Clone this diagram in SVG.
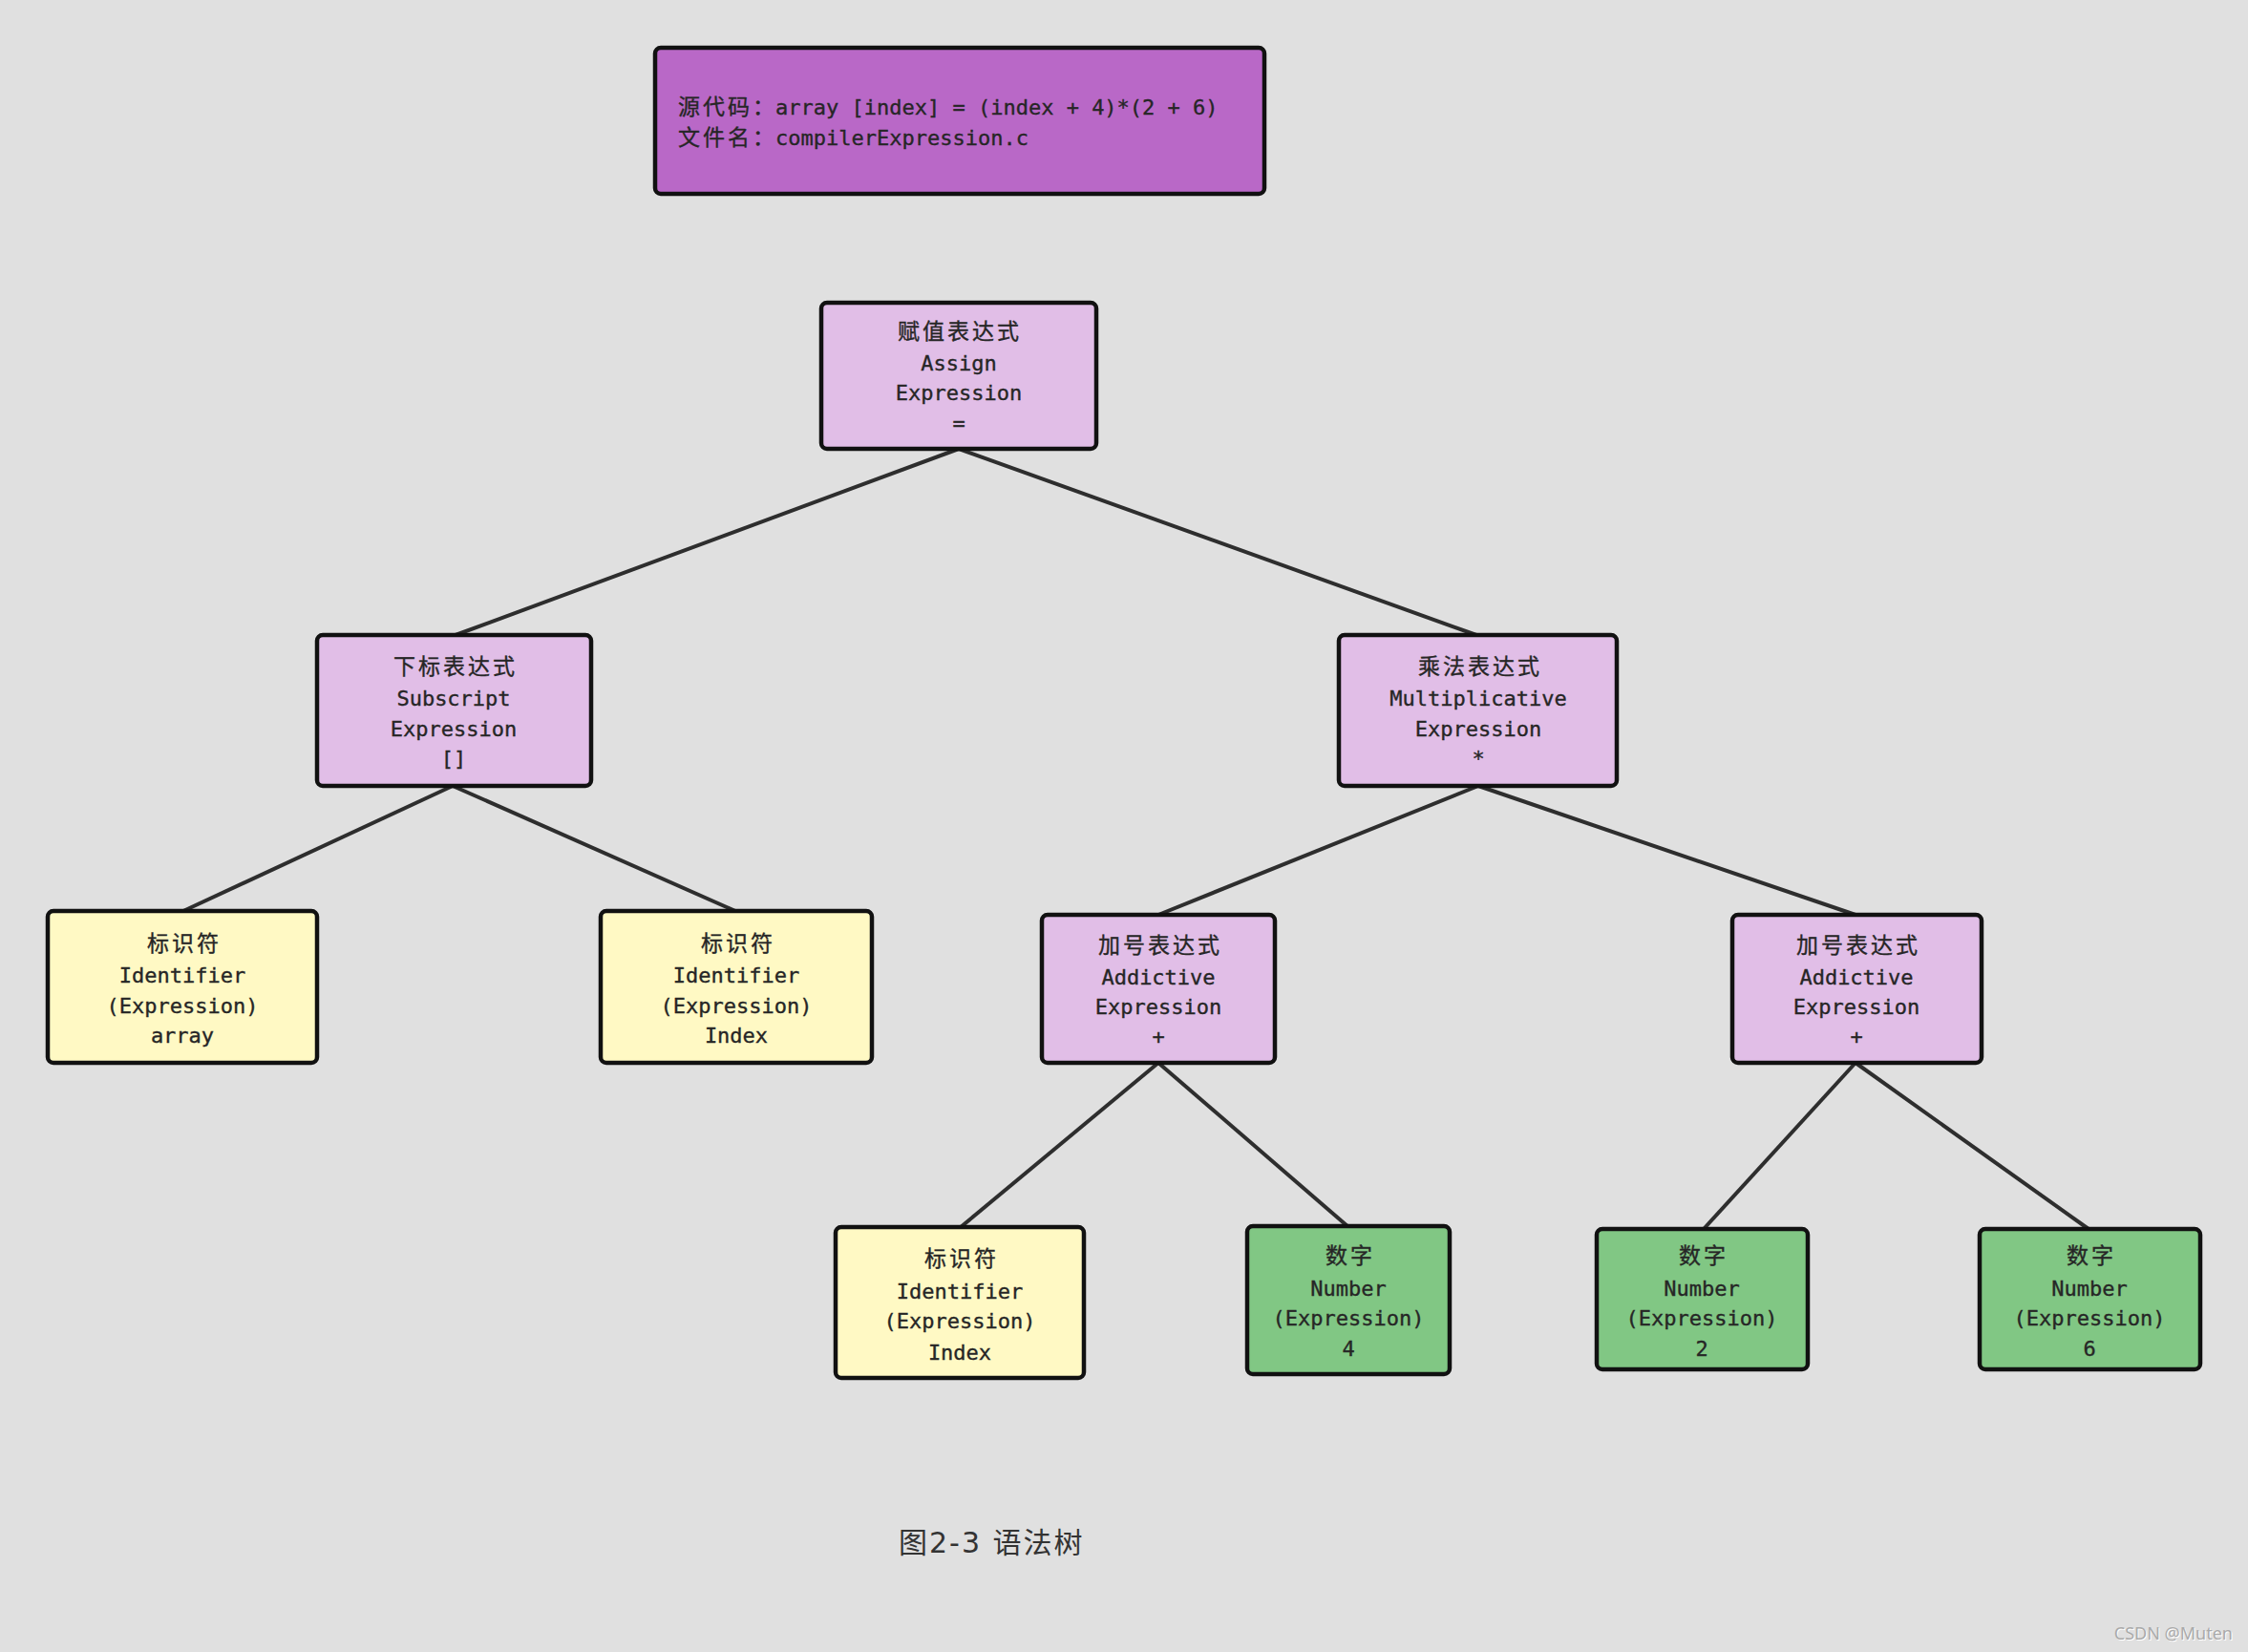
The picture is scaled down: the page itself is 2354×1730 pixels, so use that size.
<svg xmlns="http://www.w3.org/2000/svg" width="2354" height="1730" viewBox="0 0 2354 1730">
<style>
.n{stroke:#111;stroke-width:4.5}
.p{fill:#e1bee7}
.y{fill:#fff9c4}
.g{fill:#81c784}
.t{font-family:"DejaVu Sans Mono","Noto Sans CJK SC",monospace;font-size:22px;fill:#262626;text-anchor:middle;stroke:#262626;stroke-width:0.35}
.c{font-size:23px;letter-spacing:3px}
.e{stroke:#2e2e2e;stroke-width:4;fill:none}
</style>
<rect width="2354" height="1730" fill="#e0e0e0"/>
<g id="connectors">
<line class="e" x1="1004" y1="470" x2="477" y2="665"/>
<line class="e" x1="1004" y1="470" x2="1546" y2="665"/>
<line class="e" x1="474" y1="823" x2="192" y2="954"/>
<line class="e" x1="474" y1="823" x2="770" y2="954"/>
<line class="e" x1="1548" y1="823" x2="1213" y2="958"/>
<line class="e" x1="1548" y1="823" x2="1943" y2="958"/>
<line class="e" x1="1213" y1="1113" x2="1006" y2="1285"/>
<line class="e" x1="1213" y1="1113" x2="1411" y2="1284"/>
<line class="e" x1="1943" y1="1113" x2="1784" y2="1287"/>
<line class="e" x1="1943" y1="1113" x2="2187" y2="1287"/>
</g>
<g id="source">
<rect class="n" x="686" y="50" width="638" height="153" rx="6" fill="#b968c7"/>
<text class="t" style="text-anchor:start" y="120"><tspan x="710" class="c">源代码：</tspan><tspan x="812">array [index] = (index + 4)*(2 + 6)</tspan></text>
<text class="t" style="text-anchor:start" y="152"><tspan x="710" class="c">文件名：</tspan><tspan x="812">compilerExpression.c</tspan></text>
</g>
<g id="assign">
<rect class="n p" x="860" y="317" width="288" height="153" rx="6"/>
<text class="t c" x="1005" y="355">赋值表达式</text>
<text class="t" x="1004" y="388">Assign</text>
<text class="t" x="1004" y="419">Expression</text>
<text class="t" x="1004" y="451">=</text>
</g>
<g id="subscript">
<rect class="n p" x="332" y="665" width="287" height="158" rx="6"/>
<text class="t c" x="477" y="706">下标表达式</text>
<text class="t" x="475" y="739">Subscript</text>
<text class="t" x="475" y="771">Expression</text>
<text class="t" x="475" y="802">[]</text>
</g>
<g id="multiplicative">
<rect class="n p" x="1402" y="665" width="291" height="158" rx="6"/>
<text class="t c" x="1550" y="706">乘法表达式</text>
<text class="t" x="1548" y="739">Multiplicative</text>
<text class="t" x="1548" y="771">Expression</text>
<text class="t" x="1548" y="802">*</text>
</g>
<g id="ident-array">
<rect class="n y" x="50" y="954" width="282" height="159" rx="6"/>
<text class="t c" x="193" y="996">标识符</text>
<text class="t" x="191" y="1029">Identifier</text>
<text class="t" x="191" y="1061">(Expression)</text>
<text class="t" x="191" y="1092">array</text>
</g>
<g id="ident-index">
<rect class="n y" x="629" y="954" width="284" height="159" rx="6"/>
<text class="t c" x="773" y="996">标识符</text>
<text class="t" x="771" y="1029">Identifier</text>
<text class="t" x="771" y="1061">(Expression)</text>
<text class="t" x="771" y="1092">Index</text>
</g>
<g id="additive-1">
<rect class="n p" x="1091" y="958" width="244" height="155" rx="6"/>
<text class="t c" x="1215" y="998">加号表达式</text>
<text class="t" x="1213" y="1031">Addictive</text>
<text class="t" x="1213" y="1062">Expression</text>
<text class="t" x="1213" y="1093">+</text>
</g>
<g id="additive-2">
<rect class="n p" x="1814" y="958" width="261" height="155" rx="6"/>
<text class="t c" x="1946" y="998">加号表达式</text>
<text class="t" x="1944" y="1031">Addictive</text>
<text class="t" x="1944" y="1062">Expression</text>
<text class="t" x="1944" y="1093">+</text>
</g>
<g id="ident-index-2">
<rect class="n y" x="875" y="1285" width="260" height="158" rx="6"/>
<text class="t c" x="1007" y="1326">标识符</text>
<text class="t" x="1005" y="1360">Identifier</text>
<text class="t" x="1005" y="1391">(Expression)</text>
<text class="t" x="1005" y="1424">Index</text>
</g>
<g id="number-4">
<rect class="n g" x="1306" y="1284" width="212" height="155" rx="6"/>
<text class="t c" x="1414" y="1323">数字</text>
<text class="t" x="1412" y="1357">Number</text>
<text class="t" x="1412" y="1388">(Expression)</text>
<text class="t" x="1412" y="1420">4</text>
</g>
<g id="number-2">
<rect class="n g" x="1672" y="1287" width="221" height="147" rx="6"/>
<text class="t c" x="1784" y="1323">数字</text>
<text class="t" x="1782" y="1357">Number</text>
<text class="t" x="1782" y="1388">(Expression)</text>
<text class="t" x="1782" y="1420">2</text>
</g>
<g id="number-6">
<rect class="n g" x="2073" y="1287" width="231" height="147" rx="6"/>
<text class="t c" x="2190" y="1323">数字</text>
<text class="t" x="2188" y="1357">Number</text>
<text class="t" x="2188" y="1388">(Expression)</text>
<text class="t" x="2188" y="1420">6</text>
</g>
<text x="941" y="1626" font-family="'DejaVu Sans','Noto Sans CJK SC',sans-serif" font-size="30" letter-spacing="2" fill="#333">图2-3 语法树</text>
<text x="2339" y="1718" text-anchor="end" font-family="'Noto Sans','Noto Sans CJK SC',sans-serif" font-size="18" fill="#ffffff">CSDN @Muten</text>
<text x="2338" y="1717" text-anchor="end" font-family="'Noto Sans','Noto Sans CJK SC',sans-serif" font-size="18" fill="#aaaaaa">CSDN @Muten</text>
</svg>
